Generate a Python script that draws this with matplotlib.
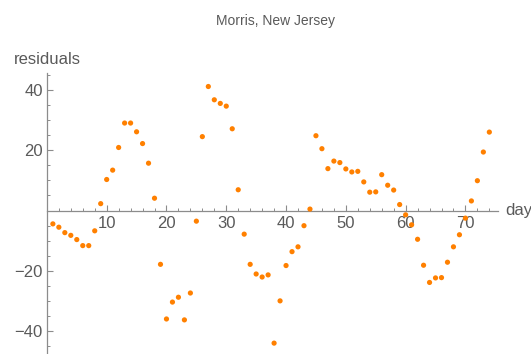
#residuals plot, Morris NJ

import numpy as np
import matplotlib
matplotlib.use("Agg")
import matplotlib.pyplot as plt
from matplotlib.ticker import MultipleLocator

plt.rcParams['font.family'] = ['Liberation Sans', 'DejaVu Sans']

days = list(range(1, 75))		#day number of each residual

residuals = [-4.4, -5.5, -7.3, -8.2, -9.6, -11.6, -11.6, -6.7, 2.3, 10.3,
             13.4, 20.9, 29.0, 29.0, 26.1, 22.2, 15.7, 4.1, -17.8, -35.9,
             -30.3, -28.7, -36.2, -27.3, -3.5, 24.5, 41.1, 36.7, 35.5, 34.6,
             27.1, 6.9, -7.8, -17.8, -21.0, -22.0, -21.3, -43.9, -29.9, -18.2,
             -13.6, -12.0, -5.0, 0.5, 24.8, 20.5, 13.9, 16.4, 15.9, 13.8,
             12.8, 13.0, 9.5, 6.1, 6.2, 11.9, 8.4, 6.8, 2.0, -1.4,
             -4.7, -9.5, -18.1, -23.8, -22.3, -22.2, -17.1, -12.0, -8.0, -2.5,
             3.2, 9.9, 19.4, 26.0]

xticks = [10, 20, 30, 40, 50, 60, 70]
yticks = [-40, -20, 20, 40]

axcol = '#8c8c8c'
txtcol = '#5a5a5a'

fig = plt.figure(figsize=(5.31, 3.54), dpi=100)
ax = fig.add_axes([0.0883, 0.0, 0.849, 0.794])

ax.scatter(days, residuals, s=14, color=(1.0, 0.5, 0.0), edgecolors='none', zorder=3, clip_on=False)

ax.set_xlim(0, 75.4)
ax.set_ylim(-47.5, 45.6)

for s in ['top', 'right']:
	ax.spines[s].set_visible(False)
ax.spines['left'].set_position(('data', 0))
ax.spines['bottom'].set_position(('data', 0))
for s in ['left', 'bottom']:
	ax.spines[s].set_color(axcol)
	ax.spines[s].set_linewidth(0.9)

ax.set_xticks(xticks)
ax.set_yticks(yticks)
ax.xaxis.set_minor_locator(MultipleLocator(2))
ax.yaxis.set_minor_locator(MultipleLocator(5))
ax.tick_params(which='major', direction='in', length=4, width=0.8, color=axcol, labelcolor=txtcol, labelsize=12)
ax.tick_params(which='minor', direction='in', length=2.3, width=0.7, color=axcol)
ax.tick_params(axis='x', pad=4)
ax.tick_params(axis='y', pad=3)

fig.text(0.518, 1 - 21/354, 'Morris, New Jersey', ha='center', va='center', fontsize=10, color=txtcol)
fig.text(47/531, 1 - 60/354, 'residuals', ha='center', va='center', fontsize=12, color=txtcol)
fig.text(505/531, 1 - 211/354, 'days', ha='left', va='center', fontsize=12, color=txtcol)

fig.savefig('out.png', dpi=100)
